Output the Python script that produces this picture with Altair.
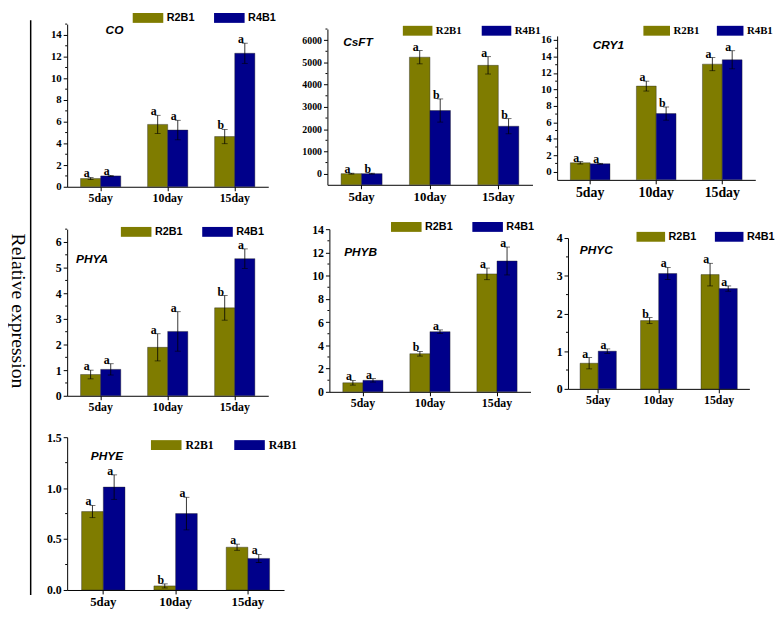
import altair as alt
import pandas as pd

days = ["5day", "10day", "15day"]
series = ["R2B1", "R4B1"]
colors = ["#7f7c00", "#00008a"]

# CO
co_r2 = [0.76, 5.75, 4.63]
co_r4 = [1.00, 5.23, 12.31]
co_r2_err = [0.10, 0.84, 0.66]
co_r4_err = [0.05, 0.90, 0.93]
co_r2_let = ["a", "a", "b"]
co_r4_let = ["a", "a", "a"]
# CsFT
csft_r2 = [1, 5235, 4868]
csft_r4 = [1, 2838, 2132]
csft_r2_err = [20, 300, 390]
csft_r4_err = [20, 520, 340]
csft_r2_let = ["a", "a", "a"]
csft_r4_let = ["b", "b", "b"]
# CRY1
cry1_r2 = [1.08, 10.40, 13.07]
cry1_r4 = [0.96, 7.06, 13.60]
cry1_r2_err = [0.15, 0.60, 0.80]
cry1_r4_err = [0.05, 0.80, 1.10]
cry1_r2_let = ["a", "a", "a"]
cry1_r4_let = ["a", "b", "a"]
# PHYA
phya_r2 = [0.83, 1.89, 3.43]
phya_r4 = [1.03, 2.51, 5.35]
phya_r2_err = [0.17, 0.53, 0.48]
phya_r4_err = [0.22, 0.77, 0.38]
phya_r2_let = ["a", "a", "b"]
phya_r4_let = ["a", "a", "a"]
# PHYB
phyb_r2 = [0.78, 3.28, 10.15]
phyb_r4 = [0.99, 5.18, 11.26]
phyb_r2_err = [0.20, 0.20, 0.50]
phyb_r4_err = [0.15, 0.15, 1.20]
phyb_r2_let = ["a", "b", "a"]
phyb_r4_let = ["a", "a", "a"]
# PHYC
phyc_r2 = [0.68, 1.81, 3.03]
phyc_r4 = [1.00, 3.06, 2.66]
phyc_r2_err = [0.15, 0.08, 0.30]
phyc_r4_err = [0.06, 0.16, 0.07]
phyc_r2_let = ["a", "b", "a"]
phyc_r4_let = ["a", "a", "a"]
# PHYE
phye_r2 = [0.77, 0.04, 0.42]
phye_r4 = [1.01, 0.75, 0.31]
phye_r2_err = [0.06, 0.02, 0.03]
phye_r4_err = [0.12, 0.16, 0.04]
phye_r2_let = ["a", "b", "a"]
phye_r4_let = ["a", "a", "a"]

SERIF = "Liberation Serif"
SANS = "Liberation Sans"
W, H = 768, 598


def panel(name, r2, r4, e2, e4, l2, l4, ymin, ymax, ystep, box,
          tpos, lpos, lfont, lfs, sw, xfs, yfs, yfmt="d"):
    px0, px1, py0, py1 = box
    rows = []
    for s, vals, errs, lets in [("R2B1", r2, e2, l2), ("R4B1", r4, e4, l4)]:
        for d, v, e, l in zip(days, vals, errs, lets):
            rows.append({"day": d, "series": s, "value": v,
                         "lo": v - e, "hi": v + e, "letter": l})
    df = pd.DataFrame(rows)
    ticks, minors = [], []
    t = 0
    while t <= ymax + 1e-9:
        ticks.append(round(t, 6))
        if t + ystep / 2 <= ymax + 1e-9:
            minors.append(round(t + ystep / 2, 6))
        t += ystep
    base = alt.Chart(df)
    x = alt.X("day:N", sort=days, title=None,
              scale=alt.Scale(range=[px0, px1], paddingInner=0.4, paddingOuter=0.2),
              axis=alt.Axis(orient="bottom", offset=py1 - H, labelAngle=0,
                            labelFont=SERIF, labelFontWeight="bold",
                            labelFontSize=xfs, labelColor="black", domainColor="black",
                            tickColor="black", tickSize=4, labelPadding=2,
                            grid=False))
    xo = alt.XOffset("series:N", sort=series,
                     scale=alt.Scale(paddingInner=0, paddingOuter=0))
    yscale = alt.Scale(domain=[ymin, ymax], range=[py1, py0], nice=False, zero=False)
    yaxis = alt.Axis(orient="left", offset=-px0, values=ticks, format=yfmt,
                     labelFont=SERIF, labelFontWeight="bold",
                     labelFontSize=yfs, labelColor="black", domainColor="black",
                     tickColor="black", tickSize=4, labelPadding=2, grid=False,
                     title=None)
    half = sw / 10.0
    swatch = f"M-{half},-1H{half}V1H-{half}Z"
    bars = base.mark_bar(stroke="#222222", strokeWidth=0.4).encode(
        x=x, xOffset=xo,
        y=alt.Y("value:Q", scale=yscale, axis=yaxis),
        y2=alt.datum(ymin),
        color=alt.Color("series:N", sort=series,
                        scale=alt.Scale(domain=series, range=colors),
                        legend=alt.Legend(orient="none", legendX=lpos[0] + sw / 2 - 5,
                                          legendY=lpos[1], direction="horizontal",
                                          title=None, symbolType=swatch, symbolSize=100,
                                          symbolStrokeWidth=0, symbolOpacity=1,
                                          labelFont=lfont, labelFontWeight="bold",
                                          labelFontSize=lfs, labelColor="black",
                                          labelOffset=sw / 2 - 2,
                                          columnPadding=sw / 2 - 5 + 9, padding=0)),
    )
    err = base.mark_rule(color="black", strokeWidth=0.8).encode(
        x=x, xOffset=xo, y=alt.Y("lo:Q", scale=yscale), y2="hi:Q")
    cap_hi = base.mark_tick(color="black", thickness=0.8, size=6).encode(
        x=x, xOffset=xo, y=alt.Y("hi:Q", scale=yscale))
    cap_lo = base.mark_tick(color="black", thickness=0.8, size=6).encode(
        x=x, xOffset=xo, y=alt.Y("lo:Q", scale=yscale))
    letters = base.mark_text(font=SERIF, fontWeight="bold", fontSize=12, color="black",
                             baseline="bottom", dx=-4, dy=3).encode(
        x=x, xOffset=xo, y=alt.Y("hi:Q", scale=yscale), text="letter:N")
    minor = alt.Chart(pd.DataFrame({"m": minors})).mark_rule(
        color="black", strokeWidth=1).encode(
        y=alt.Y("m:Q", scale=yscale), x=alt.value(px0 - 2), x2=alt.value(px0))
    title = alt.Chart(pd.DataFrame({"t": [name]})).mark_text(
        font=SANS, fontWeight="bold", fontStyle="italic", fontSize=12,
        align="left", baseline="alphabetic", color="black").encode(
        x=alt.value(px0 + tpos[0]), y=alt.value(py0 + tpos[1]), text="t:N")
    return alt.layer(bars, err, cap_hi, cap_lo, letters, minor, title)


co = panel("CO", co_r2, co_r4, co_r2_err, co_r4_err, co_r2_let, co_r4_let,
           0, 15, 2, (60, 264, 12, 177), (39, 10), (126, 0), SANS, 11, 31, 12, 11)
csft = panel("CsFT", csft_r2, csft_r4, csft_r2_err, csft_r4_err, csft_r2_let, csft_r4_let,
             -500, 6500, 1000, (324, 532, 17, 175), (16, 17), (400, 13), SERIF, 11, 30,
             13, 10)
cry1 = panel("CRY1", cry1_r2, cry1_r4, cry1_r2_err, cry1_r4_err, cry1_r2_let, cry1_r4_let,
             -1, 16.5, 2, (557, 758, 24, 170), (36, 13), (644, 13), SERIF, 11, 27, 14, 11)
phya = panel("PHYA", phya_r2, phya_r4, phya_r2_err, phya_r4_err, phya_r2_let, phya_r4_let,
             0, 6.5, 1, (60, 264, 220, 389), (9, 34), (114, 217), SANS, 11, 31, 12, 12)
phyb = panel("PHYB", phyb_r2, phyb_r4, phyb_r2_err, phyb_r4_err, phyb_r2_let, phyb_r4_let,
             0, 14, 2, (326, 530, 220, 385), (15, 27), (388, 212), SANS, 11, 31, 12, 12)
phyc = panel("PHYC", phyc_r2, phyc_r4, phyc_r2_err, phyc_r4_err, phyc_r2_let, phyc_r4_let,
             0, 4, 1, (568, 752, 229, 382), (12, 16), (637, 222), SANS, 11, 29, 12, 12)
phye = panel("PHYE", phye_r2, phye_r4, phye_r2_err, phye_r4_err, phye_r2_let, phye_r4_let,
             0, 1.5, 0.5, (60, 280, 431, 586), (24, 23), (144, 433), SERIF, 12, 31, 13, 12,
             yfmt=".1f")

label_df = pd.DataFrame({"t": ["Relative expression"]})
label_text = alt.Chart(label_df).mark_text(
    font=SERIF, fontSize=20, angle=90, align="center", baseline="middle",
    color="black").encode(x=alt.value(10), y=alt.value(303), text="t:N")
label_rule = alt.Chart(label_df).mark_rule(color="black", strokeWidth=1.5).encode(
    x=alt.value(23), y=alt.value(8), y2=alt.value(591))

chart = alt.layer(co, csft, cry1, phya, phyb, phyc, phye, label_text, label_rule).resolve_scale(
    x="independent", y="independent", color="independent", xOffset="independent"
).properties(width=W, height=H, padding=0).configure_view(
    stroke=None).configure_axis(domainWidth=1, tickWidth=1)

chart.save("out.html", embed_options={"renderer": "svg", "actions": False})
